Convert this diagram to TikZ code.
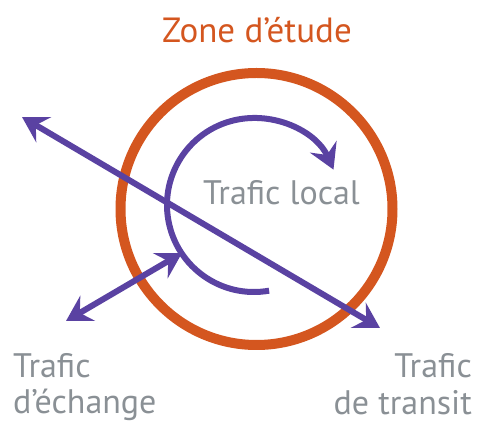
\documentclass[tikz,border=0pt]{standalone}
\usepackage{fontspec}
\setmainfont{PT Sans}
\usetikzlibrary{arrows.meta,calc}
\definecolor{ringorange}{HTML}{D4561F}
\definecolor{flowpurple}{HTML}{5A42A2}
\definecolor{labelgray}{HTML}{8A9095}
\tikzset{
  flow/.style={draw=flowpurple, line width=6pt},
  tip/.style={-{Stealth[length=25pt,width=29pt,inset=9pt]}},
  dtip/.style={{Stealth[length=25pt,width=29pt,inset=9pt]}-{Stealth[length=25pt,width=29pt,inset=9pt]}},
  lbl/.style={text=labelgray, font=\fontsize{34}{40}\selectfont, inner sep=0pt},
}
\begin{document}
\begin{tikzpicture}[x=1pt,y=1pt]
\useasboundingbox (0,0) rectangle (483,426);
% ring
\node[draw=ringorange, line width=10pt, circle, minimum size=272pt, inner sep=0pt] (zone) at (256.5,217) {};
\node[text=ringorange, font=\fontsize{35}{40}\selectfont, inner sep=0pt, anchor=base] (zonelbl) at (257,383) {Zone d’étude};
% local arc
\coordinate (lc) at (254,221);
\coordinate (lstart) at ($(lc)+(-80:87)$);
\draw[flow, tip] (lstart) arc[start angle=-80, end angle=-336, radius=87];
% exchange
\coordinate (ex1) at (66,105);
\coordinate (ex2) at (182,173);
\draw[flow, dtip] (ex1) -- (ex2);
% transit
\coordinate (tr1) at (22,309);
\coordinate (tr2) at (380,98);
\draw[flow, dtip] (tr1) -- (tr2);
% labels
\node[lbl, anchor=base] (local) at (281.5,221) {Trafic local};
\node[lbl, anchor=base west] (echange) at (13,48) {Trafic};
\node[lbl, anchor=base west] (echange2) at (13,12) {d’échange};
\node[lbl, anchor=base east] (transit) at (472,48) {Trafic};
\node[lbl, anchor=base east] (transit2) at (472,11) {de transit};
\end{tikzpicture}
\end{document}
